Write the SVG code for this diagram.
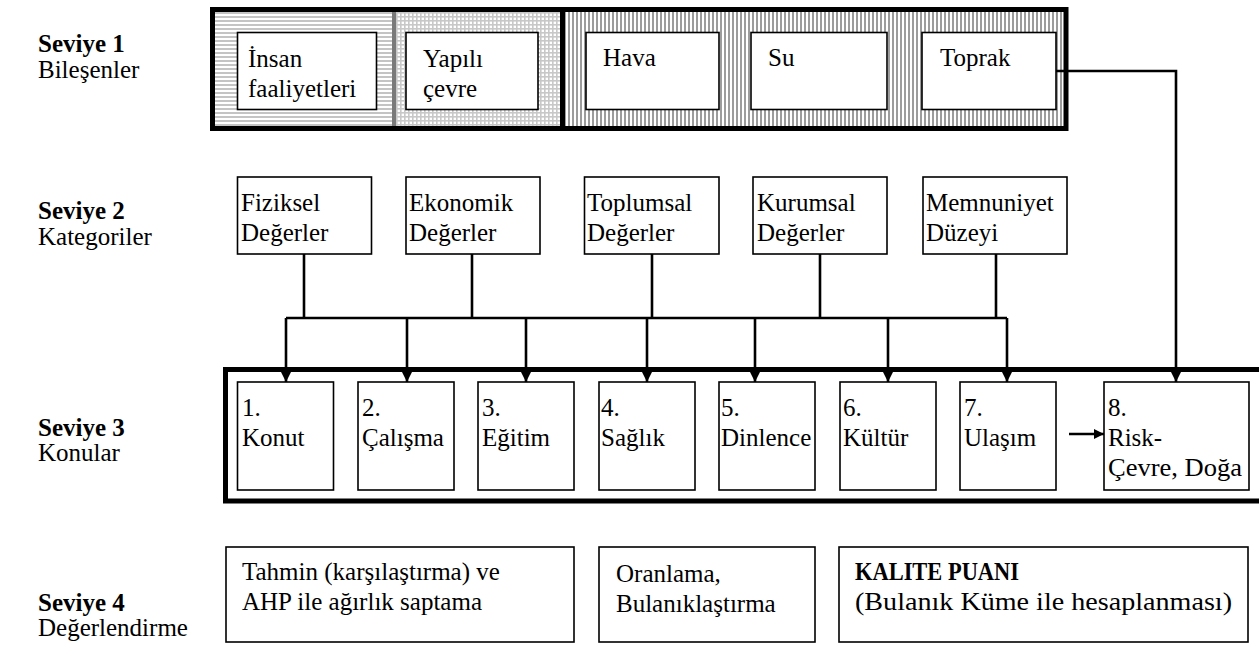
<svg xmlns="http://www.w3.org/2000/svg" width="1259" height="646" viewBox="0 0 1259 646" font-family="'Liberation Serif', Tinos, 'Times New Roman', 'DejaVu Serif', serif">
  <defs>
    <style>
      text { font-family: "Liberation Serif", Tinos, "Times New Roman", "DejaVu Serif", serif; font-size: 25px; fill: #000; }
      .b { font-weight: bold; }
      .box { fill: #fff; stroke: #000; stroke-width: 1.6; }
      .frame { fill: none; stroke: #000; stroke-width: 5; }
      .wire { fill: none; stroke: #000; stroke-width: 2.6; }
    </style>
    <!-- fill textures of the component band -->
    <pattern id="hstripe" width="4" height="4" patternUnits="userSpaceOnUse">
      <rect width="4" height="4" fill="#fff"/>
      <rect y="0" width="4" height="2" fill="#c4c4c4"/>
    </pattern>
    <pattern id="grid" width="4" height="4" patternUnits="userSpaceOnUse">
      <rect width="4" height="4" fill="#fff"/>
      <rect width="4" height="1.6" fill="#c8c8c8"/>
      <rect width="1.6" height="4" fill="#c8c8c8"/>
    </pattern>
    <pattern id="vstripe" width="4" height="4" patternUnits="userSpaceOnUse">
      <rect width="4" height="4" fill="#fff"/>
      <rect x="0" width="2" height="4" fill="#9c9c9c"/>
    </pattern>
    <marker id="arrow" markerUnits="userSpaceOnUse" markerWidth="10" markerHeight="10" refX="10" refY="5" orient="auto">
      <path d="M0,0 L10,5 L0,10 z" fill="#000"/>
    </marker>
  </defs>

  <rect width="1259" height="646" fill="#fff"/>

  <!-- level labels -->
  <g id="labels">
    <text class="b" x="38" y="52">Seviye 1</text>
    <text x="38" y="78">Bileşenler</text>
    <text class="b" x="38" y="219">Seviye 2</text>
    <text x="38" y="245">Kategoriler</text>
    <text class="b" x="38" y="436">Seviye 3</text>
    <text x="38" y="461">Konular</text>
    <text class="b" x="38" y="611">Seviye 4</text>
    <text x="38" y="636">Değerlendirme</text>
  </g>

  <!-- level 1 band -->
  <g id="band">
    <rect x="215" y="12" width="178" height="114" fill="url(#hstripe)"/>
    <rect x="394" y="12" width="167" height="114" fill="url(#grid)"/>
    <rect x="564" y="12" width="500" height="114" fill="url(#vstripe)"/>
    <line x1="394" y1="12" x2="394" y2="126" stroke="#7a7a7a" stroke-width="4"/>
    <line x1="562.5" y1="10" x2="562.5" y2="128" stroke="#000" stroke-width="5"/>
    <rect class="frame" x="212.5" y="9.5" width="853.5" height="119"/>
  </g>
  <g id="insan"><rect class="box" x="237.5" y="32.5" width="139" height="77"/><text x="248" y="67">İnsan</text><text x="248" y="97">faaliyetleri</text></g>
  <g id="yapili"><rect class="box" x="406" y="32.5" width="132" height="77"/><text x="423" y="67">Yapılı</text><text x="423" y="97">çevre</text></g>
  <g id="hava"><rect class="box" x="586" y="32.5" width="133" height="77"/><text x="603" y="66">Hava</text></g>
  <g id="su"><rect class="box" x="751" y="32.5" width="136" height="77"/><text x="768" y="66">Su</text></g>
  <g id="toprak"><rect class="box" x="922" y="32.5" width="134" height="77"/><text x="940" y="66">Toprak</text></g>

  <!-- level 2 categories -->
  <g id="fiziksel"><rect class="box" x="237.5" y="177" width="134" height="77"/><text x="241" y="211">Fiziksel</text><text x="241" y="241">Değerler</text></g>
  <g id="ekonomik"><rect class="box" x="406" y="177" width="134" height="77"/><text x="409" y="211">Ekonomik</text><text x="409" y="241">Değerler</text></g>
  <g id="toplumsal"><rect class="box" x="584.5" y="177" width="134.5" height="77"/><text x="587" y="211">Toplumsal</text><text x="587" y="241">Değerler</text></g>
  <g id="kurumsal"><rect class="box" x="753" y="177" width="134" height="77"/><text x="757" y="211">Kurumsal</text><text x="757" y="241">Değerler</text></g>
  <g id="memnuniyet"><rect class="box" x="923" y="177" width="144" height="77"/><text x="926" y="211">Memnuniyet</text><text x="926" y="241">Düzeyi</text></g>

  <!-- level 3 topics -->
  <rect id="topics-frame" class="frame" x="225.5" y="369.5" width="1041.5" height="131.5" stroke-width="4"/>
  <g id="t1"><rect class="box" x="237.5" y="382" width="96" height="108"/><text x="242" y="416">1.</text><text x="242" y="446">Konut</text></g>
  <g id="t2"><rect class="box" x="358" y="382" width="96" height="108"/><text x="362" y="416">2.</text><text x="362" y="446">Çalışma</text></g>
  <g id="t3"><rect class="box" x="478" y="382" width="96" height="108"/><text x="482" y="416">3.</text><text x="482" y="446">Eğitim</text></g>
  <g id="t4"><rect class="box" x="599" y="382" width="96" height="108"/><text x="601" y="416">4.</text><text x="601" y="446">Sağlık</text></g>
  <g id="t5"><rect class="box" x="719" y="382" width="96" height="108"/><text x="721" y="416">5.</text><text x="721" y="446">Dinlence</text></g>
  <g id="t6"><rect class="box" x="840" y="382" width="96" height="108"/><text x="843" y="416">6.</text><text x="843" y="446">Kültür</text></g>
  <g id="t7"><rect class="box" x="960" y="382" width="96" height="108"/><text x="964" y="416">7.</text><text x="964" y="446">Ulaşım</text></g>
  <g id="t8"><rect class="box" x="1104" y="382" width="145" height="108"/><text x="1108" y="416">8.</text><text x="1108" y="446">Risk-</text><text x="1108" y="476" textLength="134" lengthAdjust="spacingAndGlyphs">Çevre, Doğa</text></g>

  <!-- level 4 evaluation -->
  <g id="tahmin"><rect class="box" x="226" y="547" width="348" height="95"/><text x="242" y="580">Tahmin (karşılaştırma) ve</text><text x="242" y="610">AHP ile ağırlık saptama</text></g>
  <g id="oranlama"><rect class="box" x="599" y="547" width="216" height="95"/><text x="616" y="582">Oranlama,</text><text x="616" y="612">Bulanıklaştırma</text></g>
  <g id="kalite"><rect class="box" x="839" y="547" width="409" height="95"/><text class="b" x="855" y="580" textLength="164" lengthAdjust="spacingAndGlyphs">KALITE PUANI</text><text x="855" y="610" textLength="377" lengthAdjust="spacingAndGlyphs">(Bulanık Küme ile hesaplanması)</text></g>

  <!-- connectors -->
  <g id="connectors" class="wire">
    <path d="M304,254 V318 M472,254 V318 M652,254 V318 M820,254 V318 M996,254 V318"/>
    <path d="M286,318 H1007"/>
    <path d="M286,318 V382" marker-end="url(#arrow)"/>
    <path d="M407,318 V382" marker-end="url(#arrow)"/>
    <path d="M526,318 V382" marker-end="url(#arrow)"/>
    <path d="M647,318 V382" marker-end="url(#arrow)"/>
    <path d="M755,318 V382" marker-end="url(#arrow)"/>
    <path d="M888,318 V382" marker-end="url(#arrow)"/>
    <path d="M1007,318 V382" marker-end="url(#arrow)"/>
    <path d="M1069,434 H1104" marker-end="url(#arrow)"/>
    <path d="M1056,71 H1176 V382" marker-end="url(#arrow)"/>
  </g>
</svg>
